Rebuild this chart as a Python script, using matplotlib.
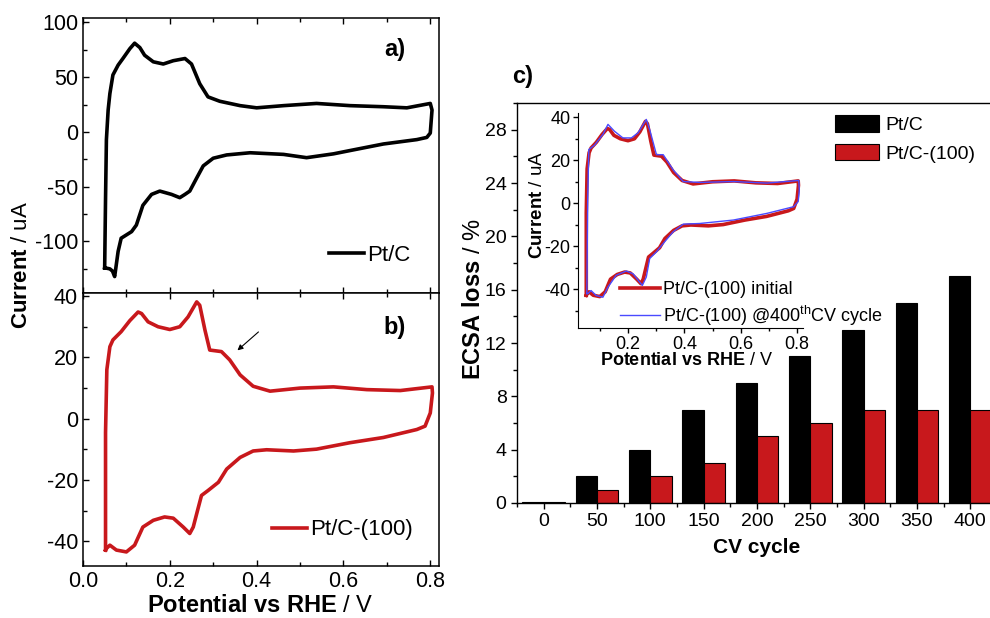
import matplotlib
matplotlib.use("Agg")
import matplotlib.pyplot as plt
from matplotlib.ticker import MultipleLocator, FixedLocator, NullFormatter
from matplotlib.patches import Patch

plt.rcParams['font.family'] = ['Liberation Sans', 'DejaVu Sans']
plt.rcParams['mathtext.fontset'] = 'custom'
plt.rcParams['mathtext.rm'] = 'Liberation Sans'
plt.rcParams['mathtext.bf'] = 'Liberation Sans:bold'
plt.rcParams['mathtext.it'] = 'Liberation Sans:italic'
plt.rcParams['axes.unicode_minus'] = False

RED = '#c8181c'
BLUE = '#4a4aff'

# panel a) Pt/C cyclic voltammogram (anodic then cathodic sweep)
ptc_v = [0.050, 0.052, 0.054, 0.058, 0.062, 0.069, 0.081, 0.092, 0.108, 0.119,
         0.131, 0.142, 0.162, 0.185, 0.208, 0.235, 0.250, 0.269, 0.288, 0.315,
         0.362, 0.400, 0.462, 0.538, 0.615, 0.692, 0.746, 0.800, 0.804, 0.800,
         0.792, 0.769, 0.692, 0.615, 0.577, 0.515, 0.462, 0.385, 0.331, 0.300,
         0.277, 0.262, 0.246, 0.235, 0.223, 0.204, 0.177, 0.158, 0.138, 0.123,
         0.112, 0.100, 0.088, 0.081, 0.073, 0.068, 0.062, 0.050]
ptc_i = [-124, -61, -7, 20, 35, 52, 61, 67, 76, 81,
         77, 70, 64, 62, 65, 67, 62, 44, 32, 28,
         24, 22, 24, 26, 24, 23, 22, 26, 20, -1,
         -5, -7, -11, -17, -20, -23.5, -20.5, -19, -21, -24,
         -31, -42, -54, -57, -60, -57, -54, -57, -67, -85,
         -91, -94, -97, -109, -132, -127, -125, -124]

# panel b) Pt/C-(100) cyclic voltammogram (also the "initial" curve of the inset)
pt100_v = [0.052, 0.052, 0.055, 0.062, 0.069, 0.088, 0.108, 0.127, 0.135, 0.150,
           0.173, 0.200, 0.223, 0.242, 0.262, 0.269, 0.281, 0.292, 0.319, 0.338,
           0.362, 0.392, 0.431, 0.500, 0.577, 0.654, 0.731, 0.804, 0.805, 0.800,
           0.788, 0.769, 0.692, 0.615, 0.538, 0.485, 0.423, 0.392, 0.362, 0.331,
           0.312, 0.288, 0.273, 0.265, 0.254, 0.246, 0.231, 0.208, 0.188, 0.162,
           0.138, 0.119, 0.100, 0.077, 0.062, 0.054, 0.052]
pt100_i = [-42.8, -4.5, 16, 23.5, 25.7, 28.4, 32, 34.8, 34.3, 31.6,
           30, 29.1, 30, 33.2, 38.1, 37, 28.9, 22.4, 21.9, 19.2,
           14.3, 10.6, 9.0, 10, 10.4, 9.5, 9.2, 10.4, 8.4, 1.9,
           -2.4, -3.5, -6.1, -7.8, -9.9, -10.5, -10.1, -10.5, -12.6, -16.4,
           -20.7, -23.4, -25, -29.3, -35.3, -37.4, -35.3, -32.4, -32, -33.1,
           -35.3, -41.2, -43.4, -42.8, -41.2, -42.3, -42.8]

# inset) Pt/C-(100) after 400 CV cycles
cyc400_v = [0.054, 0.057, 0.061, 0.081, 0.111, 0.129, 0.152, 0.182, 0.212, 0.236,
            0.265, 0.277, 0.301, 0.325, 0.360, 0.396, 0.455, 0.574, 0.693, 0.806,
            0.808, 0.804, 0.788, 0.693, 0.574, 0.455, 0.396, 0.360, 0.325, 0.301,
            0.277, 0.265, 0.251, 0.218, 0.194, 0.158, 0.129, 0.111, 0.087, 0.069,
            0.057, 0.054]
cyc400_i = [-42, 1.6, 25, 27, 32, 36.7, 33.5, 30.4, 30.4, 32.8,
            39, 34.3, 22.6, 22.6, 15.6, 10.1, 9.7, 10.1, 9.4, 10.6,
            6.2, 0.8, -1.6, -4.7, -7.8, -9.4, -9.7, -13.3, -18.7, -22.6,
            -25.7, -34.3, -38.2, -32.8, -31.5, -33.5, -39, -43.7, -42.9, -40.6,
            -42.1, -42]

# panel c) ECSA loss vs CV cycle
cycles = ['0', '50', '100', '150', '200', '250', '300', '350', '400']
loss_ptc = [0.1, 2, 4, 7, 9, 11, 13, 15, 17]
loss_pt100 = [0.1, 1, 2, 3, 5, 6, 7, 7, 7]

fig = plt.figure(figsize=(9.9, 6.18), dpi=100)

def style_cv(ax):
    ax.xaxis.set_major_locator(MultipleLocator(0.2))
    ax.xaxis.set_minor_locator(MultipleLocator(0.1))
    ax.tick_params(which='both', direction='in', top=True, right=False,
                   labelsize=15.5, width=1.0)
    ax.tick_params(which='major', length=4.5)
    ax.tick_params(which='minor', length=3)
    for s in ax.spines.values():
        s.set_linewidth(1.1)
    ax.set_xlim(0, 0.82)

# a)
ax1 = fig.add_axes([0.0838, 0.5259, 0.3596, 0.445])
ax1.plot(ptc_v, ptc_i, color='black', lw=2.6, label='Pt/C')
style_cv(ax1)
ax1.set_ylim(-147, 104)
ax1.yaxis.set_major_locator(MultipleLocator(50))
ax1.yaxis.set_minor_locator(MultipleLocator(25))
ax1.xaxis.set_major_formatter(NullFormatter())
ax1.text(0.876, 0.884, 'a)', transform=ax1.transAxes, fontsize=17,
         fontweight='bold', ha='center', va='center')
ax1.legend(loc='center left', bbox_to_anchor=(0.69, 0.138), frameon=False,
           fontsize=16, handlelength=1.6, handletextpad=0.15,
           borderpad=0, borderaxespad=0)

# b)
ax2 = fig.add_axes([0.0838, 0.0841, 0.3596, 0.4418])
ax2.plot(pt100_v, pt100_i, color=RED, lw=2.6, label='Pt/C-(100)')
style_cv(ax2)
ax2.set_ylim(-48, 41)
ax2.yaxis.set_major_locator(MultipleLocator(20))
ax2.yaxis.set_minor_locator(MultipleLocator(10))
ax2.xaxis.set_major_formatter(plt.FuncFormatter(lambda v, p: '%.1f' % v))
ax2.text(0.876, 0.872, 'b)', transform=ax2.transAxes, fontsize=17,
         fontweight='bold', ha='center', va='center')
ax2.annotate('', xy=(0.351, 21.7), xytext=(0.409, 28.9),
             arrowprops=dict(arrowstyle='-|>', lw=0.8, color='black',
                             mutation_scale=8))
ax2.legend(loc='center left', bbox_to_anchor=(0.53, 0.132), frameon=False,
           fontsize=16, handlelength=1.6, handletextpad=0.15,
           borderpad=0, borderaxespad=0)
ax2.set_xlabel(r'$\mathbf{Potential\ vs\ RHE}$ / V', fontsize=17)
ax2.xaxis.set_label_coords(0.497, -0.105)

fig.text(0.022, 1 - 265 / 618, r'$\mathbf{Current}$ / uA', rotation=90,
         fontsize=16, ha='center', va='center')

# c)
ax3 = fig.add_axes([0.5222, 0.1861, 0.4848, 0.6472])
pos = list(range(len(cycles)))
ax3.bar([p - 0.2 for p in pos], loss_ptc, width=0.4, color='black',
        edgecolor='black', lw=0.8, label='Pt/C')
ax3.bar([p + 0.2 for p in pos], loss_pt100, width=0.4, color=RED,
        edgecolor='black', lw=0.8, label='Pt/C-(100)')
ax3.set_xlim(-0.5, 8.5)
ax3.set_ylim(0, 30)
ax3.set_xticks(pos)
ax3.set_xticklabels(cycles)
ax3.xaxis.set_minor_locator(FixedLocator([p - 0.5 for p in pos] + [8.5]))
ax3.yaxis.set_major_locator(MultipleLocator(4))
ax3.yaxis.set_minor_locator(MultipleLocator(2))
ax3.tick_params(which='both', direction='out', labelsize=14, width=1.0)
ax3.tick_params(which='major', length=4)
ax3.tick_params(which='minor', length=3)
for s in ax3.spines.values():
    s.set_linewidth(1.0)
ax3.set_xlabel('CV cycle', fontsize=15, fontweight='bold')
ax3.xaxis.set_label_coords(0.5, -0.088)
ax3.set_ylabel(r'$\mathbf{ECSA\ loss}$ / %', fontsize=17)
ax3.yaxis.set_label_coords(-0.066, 0.51)
fig.text(523 / 990, 1 - 77 / 618, 'c)', fontsize=17, fontweight='bold',
         ha='center', va='center')
fig.legend(handles=[Patch(facecolor='black', edgecolor='black', lw=0.8, label='Pt/C'),
                    Patch(facecolor=RED, edgecolor='black', lw=0.8, label='Pt/C-(100)')],
           loc='center left', bbox_to_anchor=(0.843, 0.775), frameon=False,
           fontsize=14, handlelength=2.3, handleheight=0.9, labelspacing=0.5,
           handletextpad=0.3, borderpad=0, borderaxespad=0)

# inset
ax4 = fig.add_axes([0.5838, 0.4693, 0.2273, 0.3479])
ax4.plot(pt100_v, pt100_i, color=RED, lw=2.6, label='Pt/C-(100) initial')
ax4.plot(cyc400_v, cyc400_i, color=BLUE, lw=1.0,
         label=r'Pt/C-(100) @400$^{\rm th}$CV cycle')
ax4.set_xlim(0.0225, 0.821)
ax4.set_ylim(-58, 42)
ax4.spines['top'].set_visible(False)
ax4.spines['right'].set_visible(False)
ax4.xaxis.set_major_locator(FixedLocator([0.2, 0.4, 0.6, 0.8]))
ax4.xaxis.set_minor_locator(FixedLocator([0.1, 0.3, 0.5, 0.7]))
ax4.yaxis.set_major_locator(MultipleLocator(20))
ax4.yaxis.set_minor_locator(MultipleLocator(10))
ax4.tick_params(which='both', direction='out', labelsize=13, width=1.0, pad=2)
ax4.tick_params(which='major', length=3.5)
ax4.tick_params(which='minor', length=2.5)
ax4.set_xlabel(r'$\mathbf{Potential\ vs\ RHE}$ / V', fontsize=13)
ax4.xaxis.set_label_coords(0.484, -0.11)
ax4.set_ylabel(r'$\mathbf{Current}$ / uA', fontsize=13.5)
ax4.yaxis.set_label_coords(-0.14, 0.572)
ax4.legend(loc='center left', bbox_to_anchor=(620 / 990, 1 - 304.5 / 618),
           bbox_transform=fig.transFigure, frameon=False, fontsize=13,
           handlelength=2.2, handletextpad=0.2, labelspacing=0.3,
           borderpad=0, borderaxespad=0)

fig.savefig('out.png', dpi=100)
